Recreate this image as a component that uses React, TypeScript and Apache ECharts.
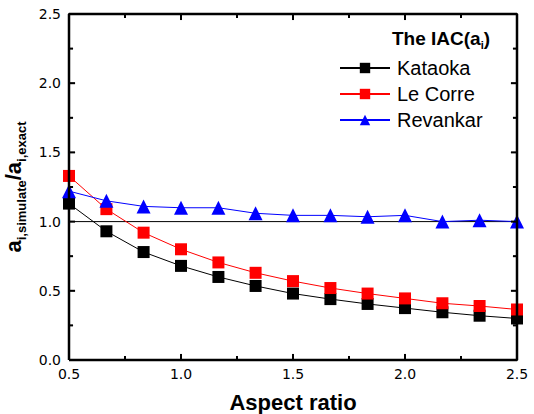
import React, { useEffect, useRef } from "react";
import * as echarts from "echarts";

// Aspect ratios sampled
const aspectRatios = [0.5, 0.667, 0.833, 1.0, 1.167, 1.333, 1.5, 1.667, 1.833, 2.0, 2.167, 2.333, 2.5];

// a_i,simulate / a_i,exact for each IAC model
const kataoka = [1.13, 0.93, 0.78, 0.68, 0.6, 0.535, 0.48, 0.44, 0.405, 0.375, 0.345, 0.32, 0.3];
const leCorre = [1.33, 1.09, 0.92, 0.8, 0.705, 0.63, 0.57, 0.52, 0.48, 0.445, 0.41, 0.39, 0.365];
const revankar = [1.22, 1.15, 1.11, 1.1, 1.1, 1.06, 1.045, 1.045, 1.035, 1.045, 1.0, 1.01, 1.0];

const refLine = 1.0;

// Axis ranges and tick positions
const X_MIN = 0.5;
const X_MAX = 2.5;
const Y_MIN = 0;
const Y_MAX = 2.5;
const xMajorTicks = [0.5, 1.0, 1.5, 2.0, 2.5];
const xMinorTicks = [0.75, 1.25, 1.75, 2.25];
const yMajorTicks = [0, 0.5, 1.0, 1.5, 2.0, 2.5];
const yMinorTicks = [0.25, 0.75, 1.25, 1.75, 2.25];

// Tick lengths in axis units (inward)
const X_TICK_MAJOR = 0.044; // along y
const X_TICK_MINOR = 0.029;
const Y_TICK_MAJOR = 0.027; // along x
const Y_TICK_MINOR = 0.018;

const pairs = (ys: number[]) => aspectRatios.map((x, i) => [x, ys[i]]);

const font = "Liberation Sans, Arial, sans-serif";
const tickFont = "DejaVu Sans, sans-serif";
const W = 534;
const H = 414;

const segment = (data: number[][], width: number) => ({
  type: "line",
  data,
  symbol: "none",
  clip: false,
  z: 5,
  lineStyle: { color: "#000", width },
  emphasis: { disabled: true },
});

// Box frame and inward ticks on all four sides
function frameSeries() {
  const out: any[] = [];
  const box = [
    [X_MIN, Y_MIN],
    [X_MAX, Y_MIN],
    [X_MAX, Y_MAX],
    [X_MIN, Y_MAX],
    [X_MIN, Y_MIN],
  ];
  out.push(segment(box, 1));
  out.push(segment(box, 2.5));
  const xt = (v: number, len: number) => {
    const bottom = [[v, Y_MIN], [v, Y_MIN + len]];
    const top = [[v, Y_MAX], [v, Y_MAX - len]];
    out.push(segment(bottom, 1), segment(bottom, 2));
    out.push(segment(top, 1), segment(top, 2));
  };
  const yt = (v: number, len: number) => {
    const left = [[X_MIN, v], [X_MIN + len, v]];
    const right = [[X_MAX, v], [X_MAX - len, v]];
    out.push(segment(left, 1), segment(left, 2));
    out.push(segment(right, 1), segment(right, 2));
  };
  xMajorTicks.forEach((v) => xt(v, X_TICK_MAJOR));
  xMinorTicks.forEach((v) => xt(v, X_TICK_MINOR));
  yMajorTicks.forEach((v) => yt(v, Y_TICK_MAJOR));
  yMinorTicks.forEach((v) => yt(v, Y_TICK_MINOR));
  return out;
}

export default function App() {
  const ref = useRef<HTMLDivElement>(null);

  useEffect(() => {
    if (!ref.current) return;
    const chart = echarts.init(ref.current, undefined, { renderer: "svg" });

    chart.setOption({
      animation: false,
      title: {
        text: "{b|The IAC(a}{s|i}{b|)}",
        left: 392,
        top: 27,
        padding: 0,
        textStyle: {
          rich: {
            b: { fontFamily: font, fontWeight: "bold", fontSize: 19, color: "#000" },
            s: { fontFamily: font, fontWeight: "bold", fontSize: 11, color: "#000", verticalAlign: "bottom", padding: [12, 0, 0, 0] },
          },
        },
      },
      legend: {
        orient: "vertical",
        left: 339,
        top: 58,
        padding: 0,
        itemWidth: 50,
        itemHeight: 13,
        itemGap: 6,
        textStyle: { fontFamily: font, fontSize: 20, color: "#000", padding: [0, 0, 0, 2] },
        data: ["Kataoka", "Le Corre", "Revankar"],
      },
      grid: { left: 69, right: 17, top: 14, bottom: 54, outerBoundsMode: "none", containLabel: false },
      xAxis: {
        type: "value",
        min: X_MIN,
        max: X_MAX,
        interval: 0.5,
        axisLine: { show: false },
        axisTick: { show: false },
        splitLine: { show: false },
        axisLabel: {
          show: true,
          color: "#000",
          fontFamily: tickFont,
          fontSize: 14,
          margin: 7,
          formatter: (v: number) => v.toFixed(1),
        },
        name: "Aspect ratio",
        nameLocation: "middle",
        nameGap: 31,
        nameTextStyle: { fontFamily: font, fontWeight: "bold", fontSize: 22, color: "#000" },
      },
      yAxis: {
        type: "value",
        min: Y_MIN,
        max: Y_MAX,
        interval: 0.5,
        axisLine: { show: false },
        axisTick: { show: false },
        splitLine: { show: false },
        axisLabel: {
          show: true,
          color: "#000",
          fontFamily: tickFont,
          fontSize: 14,
          margin: 8,
          formatter: (v: number) => v.toFixed(1),
        },
        name: "{b|a}{s|i,simulate}{b|/a}{s|i,exact}",
        nameLocation: "middle",
        nameGap: 35,
        nameTextStyle: {
          rich: {
            b: { fontFamily: font, fontWeight: "bold", fontSize: 22, color: "#000" },
            s: { fontFamily: font, fontWeight: "bold", fontSize: 13, color: "#000", verticalAlign: "bottom", padding: [15, 0, 0, 0] },
          },
        },
      },
      series: [
        ...frameSeries(),
        {
          name: "reference",
          type: "line",
          data: [[X_MIN, refLine], [X_MAX, refLine]],
          symbol: "none",
          lineStyle: { color: "#000", width: 1 },
          z: 2,
        },
        {
          name: "Kataoka",
          type: "line",
          data: pairs(kataoka),
          symbol: "rect",
          symbolSize: 12,
          itemStyle: { color: "#000" },
          lineStyle: { color: "#000", width: 1 },
          z: 3,
        },
        {
          name: "Le Corre",
          type: "line",
          data: pairs(leCorre),
          symbol: "rect",
          symbolSize: 12,
          itemStyle: { color: "#ff0000" },
          lineStyle: { color: "#ff0000", width: 1 },
          z: 3,
        },
        {
          name: "Revankar",
          type: "line",
          data: pairs(revankar),
          symbol: "triangle",
          symbolSize: 14,
          itemStyle: { color: "#0000ff" },
          lineStyle: { color: "#0000ff", width: 1 },
          z: 3,
        },
      ],
    });
    return () => chart.dispose();
  }, []);

  return (
    <div
      ref={ref}
      style={{ position: "absolute", left: 0, top: 0, width: W, height: H, background: "#fff" }}
    />
  );
}
